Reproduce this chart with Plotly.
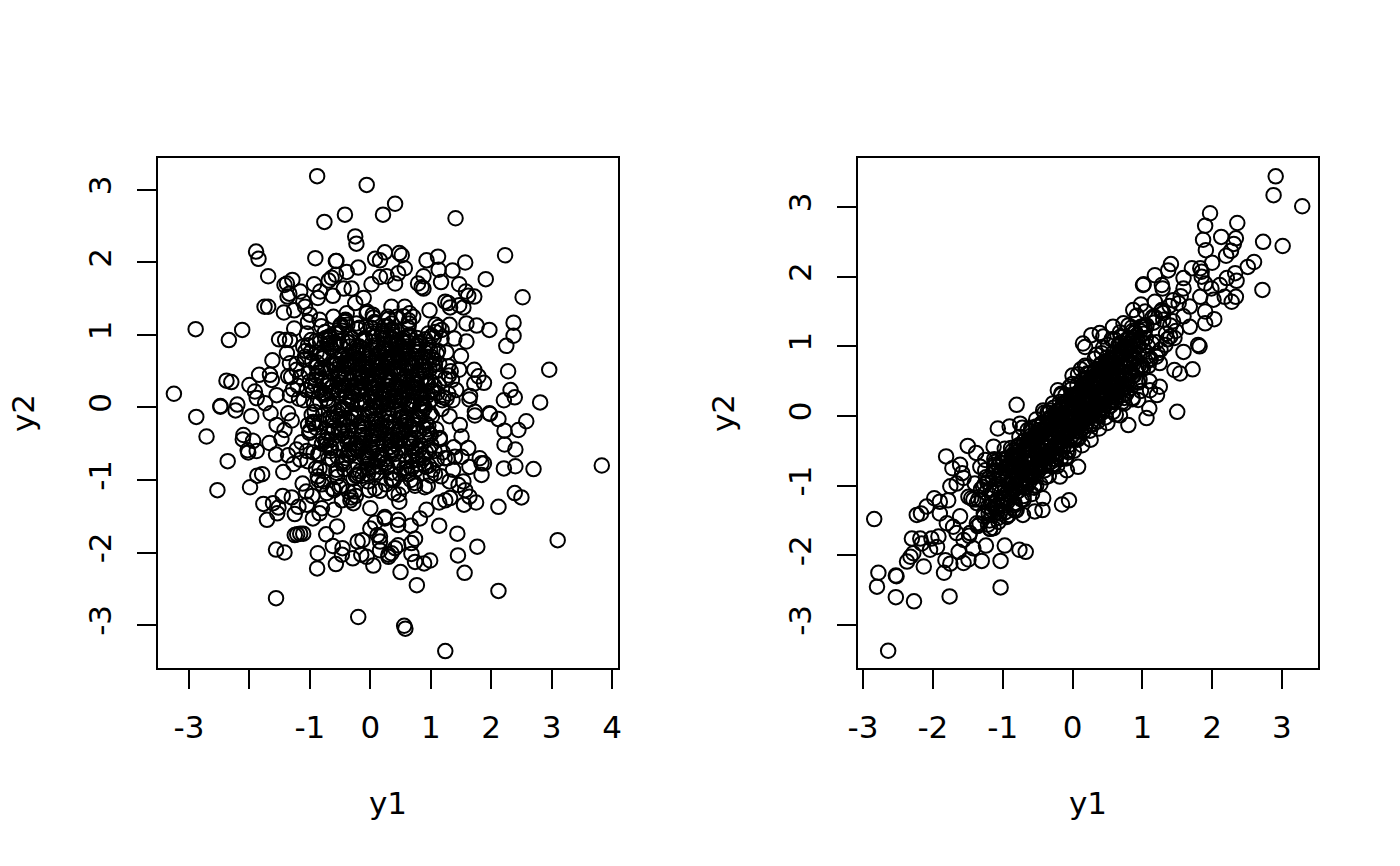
import plotly.graph_objects as go

# ---------- left panel: values ----------
left_outer_y1 = [-0.88,-0.06,-0.42,-0.76,0.21,-0.25,-0.23,-1.89,-1.85,-0.91,-0.57,-0.56,0.08,0.24,-1.69,-0.20,-0.39,-0.57,-0.64,-0.69,-1.29,-1.38,-1.42,-1.34,-1.37,-1.16,-1.11,-0.93,-0.83,-0.87,-0.62,-0.44,-0.31,0.02,0.16,-1.75,-1.69,-1.43,-1.26,-1.08,-1.0,-1.03,-0.84,-0.61,-0.39,-0.25,-0.11,-2.89,-2.12,-2.34,-1.26,-1.05,-1.51,-1.41,-1.33,-0.69,-0.67,-0.50,-1.03,-1.11,-1.38,-1.62,-1.33,-0.89,-0.61,-0.34,-0.48,-1.84,-1.66,-1.63,-1.36,-1.22,-2.38,-2.30,-3.25,-2.0,-1.91,-1.88,-1.74,-2.48,-2.2,-1.55,-1.33,-1.05,
 0.41,1.41,2.23,0.48,0.52,0.93,1.12,1.13,1.57,1.36,1.17,1.91,0.57,0.88,1.47,1.58,1.62,1.72,2.52,0.79,0.85,0.88,1.24,1.29,1.32,1.47,1.54,0.98,1.59,1.76,1.97,2.37,2.37,2.25,1.13,1.31,1.18,1.02,1.18,1.39,1.59,0.99,1.26,1.50,1.29,1.47,1.72,1.79,1.88,1.72,2.28,2.96,2.32,2.39,2.21,2.81,1.65,1.64,1.35,1.29,1.42,1.73,1.97,1.07,0.77,0.71,0.44,0.35,0.57,0.27,0.41,0.46,0.16,
 -2.48,-2.23,-2.88,-1.97,-2.10,-2.71,-2.11,-1.94,-1.67,-2.03,-2.02,-1.88,-1.56,-2.36,-1.47,-1.55,-1.65,-1.36,-1.44,-1.79,-1.87,-1.99,-2.53,-1.45,-1.30,-1.77,-1.61,-1.52,-1.54,-1.71,-1.25,-1.19,-1.05,-0.95,-0.84,-0.60,-1.06,-0.80,-0.55,-0.73,-1.25,-1.21,-1.16,-1.11,-1.56,-1.42,-0.87,-0.62,-0.46,-0.47,-0.57,-0.88,-0.29,-0.21,-0.13,-0.15,-0.06,0.05,0.0,0.08,0.12,0.16,0.30,-1.56,-0.20,-0.47,-0.28,0.0,0.24,
 1.73,1.98,2.12,2.58,2.22,2.45,2.22,2.40,2.21,2.40,2.70,3.83,1.81,1.84,1.88,1.84,1.64,2.39,2.50,2.12,1.75,1.64,1.55,1.54,1.57,1.46,1.31,1.32,1.24,1.14,1.07,1.37,1.40,1.51,1.62,1.48,1.51,1.14,1.44,1.77,1.45,3.10,1.56,2.12,0.99,0.89,0.74,0.68,0.74,0.68,0.50,0.77,0.56,0.58,1.24,0.46,0.41,0.35,0.30,0.16,0.16,0.67,0.46,0.46,0.82,0.93,0.24]
left_outer_y2 = [3.19,3.07,2.66,2.56,2.66,2.36,2.26,2.15,2.05,2.06,2.02,2.02,2.05,2.14,1.81,1.93,1.87,1.83,1.79,1.75,1.76,1.71,1.69,1.57,1.53,1.60,1.46,1.70,1.60,1.51,1.54,1.64,1.64,1.70,1.80,1.39,1.39,1.31,1.34,1.39,1.28,1.18,1.21,1.25,1.30,1.44,1.51,1.08,1.07,0.93,1.09,1.02,0.94,0.93,0.93,0.93,0.89,1.11,0.86,0.84,0.75,0.65,0.61,0.56,0.61,0.63,0.70,0.45,0.45,0.38,0.43,0.52,0.37,0.35,0.19,0.31,0.22,0.13,0.06,0.02,0.04,0.17,0.17,0.24,
 2.81,2.61,2.10,2.13,2.10,2.03,2.08,1.90,2.0,1.89,1.73,1.77,1.92,1.81,1.70,1.60,1.54,1.53,1.52,1.71,1.66,1.64,1.46,1.44,1.38,1.41,1.38,1.34,1.16,1.13,1.07,1.17,0.99,0.85,1.11,1.14,1.07,0.99,0.95,0.95,0.91,0.79,0.76,0.71,0.57,0.52,0.52,0.43,0.34,0.33,0.50,0.52,0.24,0.14,0.10,0.07,0.16,0.11,0.38,0.19,0.24,-0.06,-0.08,0.60,0.96,1.25,1.25,1.39,1.39,1.81,1.71,1.85,2.03,
 0.01,-0.04,-0.13,-0.12,-0.38,-0.40,-0.44,-0.46,-0.49,-0.59,-0.62,-0.60,-0.65,-0.74,-0.43,-0.24,-0.08,-0.66,-0.89,-0.92,-0.94,-1.10,-1.14,-1.22,-1.24,-1.33,-1.32,-1.38,-1.46,-1.55,-1.47,-1.37,-1.34,-1.53,-1.46,-1.41,-1.16,-1.39,-1.64,-1.75,-1.76,-1.75,-1.74,-1.74,-1.96,-2.0,-2.01,-1.91,-1.94,-2.03,-2.16,-2.22,-2.08,-1.85,-1.83,-2.03,-2.06,-2.18,-1.67,-1.59,-1.76,-1.97,-2.03,-2.63,-2.89,-1.28,-1.32,-1.39,-1.51,
 -0.11,-0.09,-0.16,-0.19,-0.32,-0.31,-0.51,-0.58,-0.84,-0.81,-0.85,-0.80,-0.70,-0.77,-0.77,-0.93,-0.82,-1.18,-1.24,-1.37,-1.31,-1.23,-1.34,-1.02,-1.14,-1.07,-1.02,-1.25,-1.28,-1.31,-0.91,-0.86,-0.68,-0.68,-0.56,-0.24,-0.40,-1.63,-1.74,-1.92,-2.04,-1.83,-2.28,-2.53,-2.11,-2.15,-2.13,-2.02,-1.81,-1.87,-2.27,-2.45,-3.01,-3.05,-3.36,-1.90,-1.94,-2.01,-2.06,-1.78,-1.85,-1.63,-1.55,-1.62,-1.53,-1.41,-1.53]
left_core_y1 = [-1.42,-1.31,-1.27,-1.18,-1.12,-1.09,-1.03,-0.98,-0.94,-0.91,-0.87,-0.83,-0.81,-0.78,-0.74,-0.72,-0.69,-0.66,-0.63,-0.61,-0.58,-0.55,-0.53,-0.51,-0.48,-0.46,-0.43,-0.41,-0.39,-0.37,-0.34,-0.32,-0.3,-0.27,-0.25,-0.23,-0.21,-0.19,-0.17,-0.14,-0.12,-0.1,-0.08,-0.06,-0.04,-0.02,0.01,0.03,0.05,0.07,
 0.09,0.11,0.13,0.16,0.18,0.2,0.22,0.24,0.27,0.29,0.31,0.33,0.35,0.38,0.4,0.42,0.44,0.47,0.49,0.51,0.54,0.56,0.58,0.61,0.63,0.66,0.69,0.71,0.74,0.77,0.79,0.83,0.86,0.89,0.92,0.96,1.01,1.06,1.11,1.17,1.24,1.31,1.38,-1.36,-1.22,-1.14,-1.05,-0.96,-0.89,-0.84,
 -0.79,-0.76,-0.7,-0.67,-0.64,-0.6,-0.57,-0.54,-0.5,-0.47,-0.44,-0.42,-0.38,-0.35,-0.33,-0.29,-0.26,-0.24,-0.2,-0.18,-0.15,-0.13,-0.11,-0.07,-0.05,-0.03,0.0,0.02,0.04,0.06,0.08,0.1,0.12,0.15,0.17,0.19,0.21,0.23,0.25,0.28,0.3,0.32,0.34,0.37,0.39,0.41,0.43,0.46,0.48,0.5,
 0.52,0.55,0.57,0.6,0.62,0.65,0.68,0.7,0.73,0.76,0.8,0.84,0.87,0.91,0.94,0.99,1.03,1.09,1.15,1.21,1.28,-1.28,-1.16,-1.07,-1.01,-0.93,-0.86,-0.8,-0.75,-0.71,-0.65,-0.62,-0.59,-0.56,-0.52,-0.49,-0.45,-0.4,-0.36,-0.31,-0.28,-0.22,-0.16,-0.09,-0.01,0.04,0.08,0.11,0.14,0.17,
 0.2,0.23,0.26,0.29,0.32,0.36,0.39,0.43,0.45,0.49,0.53,0.56,0.59,0.64,0.67,0.72,0.75,0.78,0.82,0.85,0.9,0.95,1.0,1.04,1.1,1.19,-1.0,-0.9,-0.82,-0.73,-0.68,-0.6,-0.54,-0.46,-0.38,-0.3,-0.24,-0.15,-0.07,0.02,0.06,0.1,0.15,0.19,0.24,0.28,
 0.33,0.37,0.41,0.46,0.5,0.55,0.6,0.65,0.7,0.75,0.81,0.88,0.97,1.08,-0.78,-0.62,-0.5,-0.35,-0.2,-0.1,0.0,0.07,0.13,0.18,0.25,0.3,0.35,0.4,0.47,0.52,0.58,0.63,0.69,0.78,0.86,0.98,-0.95,-0.77,-0.66,-0.44,-0.28,-0.12,0.03,0.12,0.22,0.31,0.42,0.51,0.61,0.72,0.92,1.13]
left_core_y2 = [-0.31,0.42,-0.78,0.12,-1.05,0.66,-0.24,0.93,-0.62,0.31,-0.95,0.08,1.12,-0.41,0.55,-1.18,-0.15,0.83,-0.72,0.22,1.02,-0.5,0.41,-1.1,-0.03,0.72,-0.85,1.21,0.15,-0.33,0.58,-1.24,0.95,-0.58,0.28,-0.12,1.08,-0.92,0.48,-0.26,0.81,-0.68,0.05,1.3,-1.02,0.35,-0.45,0.62,-0.82,0.18,
 1.16,-0.38,0.75,-1.15,0.02,0.52,-0.71,0.88,-0.2,1.25,-0.55,0.38,-0.98,0.68,0.1,-0.3,1.05,-1.2,0.45,-0.08,0.79,-0.65,0.25,-0.88,0.98,-0.42,0.6,-0.16,-1.08,0.32,0.85,-0.52,0.14,-0.78,0.5,-0.25,0.7,-0.6,0.2,-0.95,0.4,-0.12,-0.55,-0.08,0.6,-0.48,0.24,-1.22,0.44,-0.2,
 0.7,-0.88,0.1,0.96,-0.36,-1.14,0.52,-0.06,0.86,-0.76,0.3,1.18,-0.48,0.64,-1.28,0.2,-0.1,0.78,-0.6,1.1,0.4,-0.94,-0.22,0.56,1.32,-0.7,0.12,-0.4,0.9,0.26,-1.12,0.66,-0.18,0.46,-0.82,1.02,0.06,-0.5,0.74,-0.28,1.22,0.34,-0.9,0.16,0.54,-0.64,0.92,-0.04,-1.3,0.28,
 0.82,-0.34,0.42,-0.74,0.04,1.0,-0.54,0.22,-1.04,0.62,-0.14,0.36,-0.66,0.76,-0.3,0.1,-0.86,0.5,-0.44,0.14,-0.7,0.25,-0.72,0.78,-0.35,0.05,0.48,-1.06,0.18,0.88,-0.56,-0.14,0.6,-0.9,0.3,1.14,-0.24,0.46,-1.16,0.08,-0.62,0.84,0.26,-0.42,0.68,1.28,-0.8,0.0,0.56,-0.32,
 1.06,0.16,-0.76,0.44,-0.1,0.94,-1.0,0.32,0.72,-0.46,0.12,-0.84,0.58,1.2,-0.26,0.38,-0.64,0.8,-0.02,0.52,-1.1,0.2,-0.38,0.66,-0.72,0.1,0.36,-0.28,0.74,-0.52,0.04,0.9,-0.68,0.24,-0.16,0.56,-0.94,0.42,1.12,-0.4,0.08,0.7,-0.22,0.5,-0.78,0.3,0.98,-0.58,0.14,-0.34,
 0.62,-0.12,0.84,-0.48,0.28,-0.86,0.46,0.02,-0.6,1.04,0.34,-0.18,0.6,-0.44,0.18,-0.3,0.54,0.0,0.82,-0.66,0.38,-0.08,1.16,-0.5,0.66,0.12,-0.24,0.9,-0.74,0.44,0.06,-0.36,0.22,0.72,-0.14,0.4,-0.98,0.58,-0.62,0.26,0.96,-0.2,0.76,-0.42,0.5,0.08,-0.82,0.32,0.64,-0.06]
left_dense_y1 = [-0.96,-0.92,-0.88,-0.84,-0.79,-0.75,-0.7,-0.66,-0.62,-0.58,-0.54,-0.49,-0.45,-0.41,-0.37,-0.33,-0.28,-0.24,-0.2,-0.16,-0.12,-0.08,-0.03,0.01,0.05,0.09,0.13,0.17,0.21,0.26,0.3,0.34,0.38,0.42,0.46,0.51,0.55,0.59,0.63,0.67,0.71,0.76,0.8,0.84,0.88,0.93,0.97,1.02,1.08,1.15,
 -1.02,-0.97,-0.93,-0.89,-0.85,-0.81,-0.77,-0.73,-0.68,-0.64,-0.6,-0.56,-0.52,-0.47,-0.43,-0.39,-0.35,-0.31,-0.26,-0.22,-0.18,-0.14,-0.1,-0.05,-0.01,0.03,0.07,0.11,0.15,0.19,0.24,0.28,0.32,0.36,0.4,0.44,0.49,0.53,0.57,0.61,0.65,0.69,0.74,0.78,0.82,0.86,0.91,0.95,1.0,1.05,
 -0.8,-0.76,-0.71,-0.67,-0.63,-0.59,-0.55,-0.5,-0.46,-0.42,-0.38,-0.34,-0.29,-0.25,-0.21,-0.17,-0.13,-0.09,-0.04,0.0,0.04,0.08,0.12,0.16,0.2,0.25,0.29,0.33,0.37,0.41,0.45,0.5,0.54,0.58,0.62,0.66,0.7,0.75,0.79,0.83,0.87,0.92,0.96,1.01,1.06,1.12,1.18,1.23,1.3,1.36,
 -0.6,-0.56,-0.52,-0.48,-0.44,-0.4,-0.36,-0.32,-0.28,-0.24,-0.2,-0.16,-0.12,-0.08,-0.04,0.0,0.04,0.08,0.12,0.16,0.2,0.24,0.28,0.32,0.36,0.4,0.44,0.48,0.52,0.56,0.6,0.64,0.68,0.72,0.76,0.8,0.84,0.88,0.92,0.96,
 0.0,0.03,0.06,0.1,0.14,0.18,0.22,0.26,0.3,0.34,0.38,0.42,0.46,0.5,0.54,0.58,0.62,0.66,0.7,0.74,0.78,0.82,0.86,0.9,0.94,0.98,-0.04,-0.08,-0.12,-0.16,-0.2,-0.24,-0.28,-0.32,-0.36,-0.4,-0.44,-0.48,-0.52,-0.56]
left_dense_y2 = [0.62,-0.84,0.18,1.04,-0.36,0.5,-1.12,0.86,-0.12,0.34,-0.74,1.2,0.02,-0.5,0.7,-1.22,0.26,-0.2,0.92,-0.62,0.44,1.1,-0.9,0.1,0.6,-0.32,0.82,-1.06,0.3,-0.46,1.0,0.16,-0.76,0.54,1.26,-0.16,0.72,-1.0,0.38,-0.56,0.9,0.06,-0.28,0.64,-0.8,0.22,1.14,-0.42,0.48,-0.1,
 -0.22,0.76,-0.66,0.4,-1.02,0.12,0.98,-0.44,0.58,-0.86,0.24,1.06,-0.14,0.66,-0.58,0.08,-1.16,0.52,0.84,-0.34,0.28,-0.72,0.68,-0.04,1.18,-0.54,0.42,-0.24,0.78,-0.82,0.2,1.08,-0.38,0.56,-0.92,0.14,0.74,-0.18,1.3,-0.68,0.32,-0.3,0.88,-0.06,0.5,-1.08,0.36,0.96,-0.5,0.2,
 0.3,-0.52,0.8,-0.08,-0.96,0.46,0.0,-0.4,1.14,-0.66,0.22,0.62,-0.26,-0.88,0.36,0.96,-0.1,0.54,-0.48,0.2,-0.74,0.76,0.12,-0.36,1.12,0.48,-0.6,0.26,0.86,-0.14,-1.1,0.4,0.98,-0.44,0.16,0.66,-0.78,0.04,0.58,-0.22,1.02,-0.52,0.3,0.78,-0.02,-0.7,0.44,0.1,-0.32,0.6,
 -0.3,0.5,-0.78,0.14,0.9,-0.2,0.42,-0.56,0.74,0.04,-0.38,0.6,-0.92,0.32,1.02,-0.16,0.5,-0.7,0.18,0.82,-0.28,0.38,-1.0,0.66,0.02,-0.46,0.94,0.24,-0.12,0.58,-0.84,0.34,0.76,-0.34,0.12,0.52,-0.62,0.86,0.0,-0.2,
 0.34,0.86,-0.42,0.58,-0.06,1.0,0.24,-0.64,0.72,0.08,0.46,-0.3,0.9,0.2,0.62,-0.5,0.04,0.84,0.28,-0.14,0.7,-0.38,0.16,0.52,-0.78,0.94,-0.22,0.48,0.1,-0.5,0.74,-0.08,0.3,-0.7,0.58,-0.32,0.2,0.88,-0.58,0.42]
left_fill_y1 = [-1.22,-1.16,-1.1,-1.05,-0.99,-0.95,-0.9,-0.86,-0.82,-0.78,-0.74,-0.69,-0.65,-0.61,-0.57,-0.53,-0.48,-0.44,-0.4,-0.36,-0.32,-0.27,-0.23,-0.19,-0.15,-0.11,-0.07,-0.02,0.02,0.06,0.1,0.14,0.18,0.23,0.27,0.31,0.35,0.39,0.43,0.47,0.52,0.56,0.6,0.64,0.68,0.73,0.77,0.81,0.85,0.9,
 0.95,1.0,1.04,1.09,1.14,1.2,1.26,1.33,-1.3,-1.2,-1.08,-1.0,-0.9,-0.83,-0.72,-0.64,-0.55,-0.47,-0.38,-0.29,-0.2,-0.11,-0.03,0.05,0.12,0.19,0.27,0.34,0.41,0.49,0.56,0.63,0.71,0.79,0.87,0.94,1.02,1.1,0.3,0.36,0.24,0.44,0.18,0.52,0.1,0.6,0.02,0.68,-0.06,0.76,
 -0.5,-0.46,-0.42,-0.38,-0.34,-0.3,-0.26,-0.22,-0.18,-0.14,-0.1,-0.06,-0.02,0.02,0.05,0.08,0.11,0.15,0.19,0.23,0.27,0.31,0.35,0.39,0.43,0.47,0.51,0.55,0.59,0.63,0.67,0.71,0.75,0.79,0.83,0.87,0.91,0.95,0.99,1.03,-0.66,-0.7,-0.74,-0.78,-0.82,-0.86,-0.9,-0.94,-0.98,-1.04]
left_fill_y2 = [0.1,-0.6,0.76,-0.2,0.38,-1.0,0.54,-0.1,0.96,-0.7,0.2,-0.28,1.02,0.44,-1.08,-0.02,0.6,-0.42,0.14,-0.86,1.16,0.34,-0.5,0.72,0.06,-1.14,0.4,0.98,-0.28,0.56,-0.66,0.22,0.8,-0.1,1.06,-1.18,0.5,-0.34,0.68,0.1,-0.84,1.16,0.28,-0.24,0.86,-0.58,0.4,0.0,0.7,-0.94,
 0.24,-0.3,0.6,-0.62,0.12,0.5,-0.18,0.3,0.7,-0.32,-0.84,0.9,-0.44,0.28,0.66,-0.36,0.9,0.22,-0.54,0.46,-0.84,1.24,0.3,-0.28,0.66,-0.54,0.14,0.82,-0.2,1.1,0.02,-0.72,0.62,0.32,-0.12,0.74,0.06,-0.46,0.56,-0.44,0.12,0.78,-0.32,0.36,-0.56,0.04,0.6,0.2,-0.16,0.92,
 0.3,-0.64,0.84,-0.14,0.4,-0.94,0.66,-0.5,0.1,0.8,-0.68,0.28,-0.36,0.62,-0.9,0.44,-0.16,1.12,0.04,0.68,-0.4,0.24,0.88,-0.56,0.14,0.96,-0.2,-0.92,0.5,0.08,-0.42,0.76,0.2,-0.7,0.94,0.36,-0.08,0.58,-0.6,0.34,-0.46,0.68,0.24,-0.64,0.92,-0.2,0.3,-0.74,0.14,0.56]

# ---------- right panel: values ----------
right_outer_y1 = [-2.64,-2.84,-2.78,-2.80,-2.53,-2.52,-2.53,-2.27,-1.76,-1.03,-2.37,-2.32,-2.28,-2.30,-2.23,-2.17,-2.09,-1.98,-1.90,-1.81,-1.72,-1.61,-1.58,-1.50,-1.38,-1.75,-1.66,-1.56,-1.78,-1.49,-1.90,-2.18,-2.16,-2.02,-1.92,-1.94,-2.04,-2.13,-1.84,-1.82,-1.75,-1.56,-1.49,-1.30,-1.24,-1.03,-0.97,-0.76,-0.67,-1.42,-1.63,-1.13,-1.21,-0.94,-0.71,-0.54,-0.43,-0.42,-0.15,-0.05,-0.18,-0.08,0.08,-1.07,-1.13,-1.25,-1.32,-0.80,-0.90,-0.75,-1.40,-1.37,-1.61,-1.71,-1.80,-1.47,-1.56,-1.66,-1.37,-1.04,-0.80,
 2.91,2.88,3.29,3.01,2.73,1.97,1.90,2.36,1.87,2.13,2.34,2.31,2.27,2.20,1.91,2.00,2.60,2.51,2.72,1.41,1.37,1.18,1.01,1.02,1.28,1.29,1.59,1.71,1.83,1.85,1.85,1.90,1.59,2.33,2.35,2.21,2.11,1.99,2.02,1.83,2.34,2.18,2.28,0.87,0.98,1.18,0.73,0.44,0.27,0.15,0.18,1.90,2.03,1.90,1.80,1.82,1.72,1.50,1.06,1.10,1.25,1.21,1.11,1.54,1.46,1.59,1.68,1.59,1.44,1.68,1.30,0.80,0.68,0.94,1.40,1.25,0.58,0.39]
right_outer_y2 = [-3.37,-1.48,-2.25,-2.45,-2.29,-2.30,-2.60,-2.66,-2.59,-2.46,-2.09,-2.02,-1.97,-1.76,-1.42,-1.40,-1.30,-1.18,-1.23,-0.58,-0.75,-0.70,-0.82,-0.43,-0.53,-1.01,-0.97,-0.89,-1.21,-1.16,-1.40,-1.76,-1.83,-1.76,-1.73,-1.88,-1.92,-2.16,-2.25,-2.07,-2.12,-2.11,-2.06,-2.08,-1.86,-2.08,-1.86,-1.92,-1.95,-1.90,-1.95,-1.61,-1.56,-1.45,-1.42,-1.37,-1.35,-1.18,-1.27,-1.21,-0.87,-0.78,-0.73,-0.18,-0.44,-0.63,-0.73,0.16,-0.15,-0.11,-0.97,-1.25,-1.44,-1.59,-1.54,-1.68,-1.78,-1.68,-1.54,-1.40,-1.35,
 3.44,3.17,3.01,2.44,2.50,2.91,2.73,2.77,2.53,2.57,2.55,2.47,2.37,2.30,2.38,2.20,2.21,2.14,1.81,2.18,2.09,2.02,1.88,1.89,1.88,1.83,1.98,2.12,2.12,2.07,2.0,1.90,1.83,2.05,1.94,1.98,1.88,1.83,1.67,1.71,1.71,1.71,1.64,1.52,1.60,1.64,1.33,1.14,1.16,1.04,0.99,1.50,1.39,1.33,1.02,1.0,0.67,0.06,-0.03,0.11,0.42,0.30,0.37,0.61,0.66,0.92,1.28,1.43,1.66,1.57,1.38,-0.13,0.01,0.23,1.14,0.76,1.28,1.19]
right_core_y1 = [-1.48,-1.42,-1.36,-1.31,-1.27,-1.22,-1.18,-1.15,-1.11,-1.08,-1.05,-1.02,-0.99,-0.96,-0.94,-0.91,-0.88,-0.86,-0.83,-0.81,-0.78,-0.76,-0.73,-0.71,-0.69,-0.66,-0.64,-0.62,-0.59,-0.57,-0.55,-0.52,-0.5,-0.48,-0.46,-0.43,-0.41,-0.39,-0.37,-0.35,-0.32,-0.3,-0.28,-0.26,-0.24,-0.21,-0.19,-0.17,-0.15,-0.13,
 -0.1,-0.08,-0.06,-0.04,-0.02,0.0,0.03,0.05,0.07,0.09,0.11,0.14,0.16,0.18,0.2,0.22,0.25,0.27,0.29,0.31,0.33,0.36,0.38,0.4,0.42,0.45,0.47,0.49,0.51,0.54,0.56,0.58,0.61,0.63,0.66,0.68,0.71,0.74,0.77,0.8,0.83,0.86,0.89,0.93,0.97,1.01,1.06,1.12,1.18,1.26,
 -1.45,-1.33,-1.24,-1.16,-1.09,-1.03,-0.97,-0.92,-0.87,-0.82,-0.77,-0.74,-0.7,-0.67,-0.63,-0.6,-0.56,-0.53,-0.49,-0.47,-0.44,-0.4,-0.38,-0.34,-0.31,-0.29,-0.25,-0.22,-0.2,-0.16,-0.14,-0.11,-0.09,-0.05,-0.03,0.01,0.04,0.06,0.08,0.12,0.15,0.17,0.19,0.23,0.26,0.28,0.32,0.35,0.37,0.41,
 0.44,0.48,0.5,0.53,0.57,0.6,0.64,0.67,0.72,0.75,0.79,0.84,0.88,0.92,0.98,1.04,1.1,1.16,1.22,1.3,1.36,1.44,-1.12,-1.0,-0.9,-0.8,-0.72,-0.65,-0.58,-0.51,-0.45,-0.36,-0.27,-0.18,-0.12,-0.07,-0.01,0.02,0.1,0.13,0.21,0.24,0.3,0.34,0.39,0.43,0.46,0.52,0.55,0.59,0.62,0.65,
 0.7,0.73,0.78,0.82,0.85,0.9,0.95,1.0,1.08,1.14,1.2,1.28,1.34,1.4,1.48,1.55,-0.95,-0.85,-0.75,-0.68,-0.61,-0.54,-0.42,-0.33,-0.23,-0.11,0.0,0.08,0.16,0.26,0.35,0.44,0.55,0.65,0.75,0.88,1.02]
right_core_y2 = [-1.72,-1.2,-1.58,-1.05,-1.44,-0.95,-1.62,-1.1,-0.72,-1.38,-0.85,-1.3,-0.68,-1.18,-0.6,-1.42,-0.92,-0.5,-1.28,-0.66,-1.08,-0.42,-1.2,-0.78,-0.36,-1.02,-0.55,-0.95,-0.28,-0.82,-0.42,-1.0,-0.65,-0.2,-0.74,-0.12,-0.58,-0.88,-0.3,-0.68,-0.02,-0.48,-0.72,-0.18,-0.55,0.08,-0.38,-0.62,-0.05,-0.44,
 0.2,-0.28,-0.52,0.04,-0.3,0.3,-0.14,0.14,-0.34,0.32,-0.06,0.42,-0.22,0.22,-0.02,0.55,0.06,0.36,-0.12,0.62,0.16,-0.08,0.48,0.1,0.75,0.26,-0.02,0.6,0.18,0.82,0.34,0.06,0.7,0.26,1.02,0.42,0.2,0.88,0.46,1.1,0.6,0.24,0.85,0.5,1.22,0.68,1.3,0.82,1.42,0.95,
 -1.18,-1.55,-0.88,-1.4,-0.78,-1.22,-0.75,-1.08,-0.58,-1.0,-0.5,-0.96,-0.42,-0.82,-0.34,-0.88,-0.32,-0.74,-0.24,-0.62,-0.12,-0.7,-0.2,-0.58,-0.04,-0.48,0.02,-0.38,-0.12,0.12,-0.36,0.0,-0.26,0.18,-0.18,0.26,-0.22,0.1,-0.1,0.38,-0.06,0.28,0.44,0.0,0.5,0.12,0.58,0.2,0.0,0.66,
 0.12,0.78,0.3,0.62,0.22,0.84,0.34,0.92,0.4,1.0,0.5,1.08,0.58,1.16,0.7,1.24,0.8,1.34,0.9,1.48,1.1,1.36,-0.62,-1.2,-0.7,-0.52,-0.9,-0.4,-0.82,-0.3,-0.68,-0.1,-0.55,-0.02,-0.42,0.06,-0.28,0.16,-0.15,0.24,-0.04,0.36,0.04,0.46,0.14,0.56,0.22,0.66,0.32,0.76,0.4,0.86,
 0.44,0.98,0.54,1.12,0.62,1.2,0.72,1.28,0.86,1.04,1.06,1.52,1.18,1.3,1.22,1.72,-1.12,-0.72,-0.96,-0.64,-0.48,-0.62,-0.22,-0.5,0.02,-0.24,0.1,-0.16,0.28,0.06,0.52,0.3,0.72,0.52,0.96,0.76,1.18]
right_dense_y1 = [-1.2,-1.15,-1.11,-1.06,-1.01,-0.97,-0.93,-0.89,-0.84,-0.8,-0.76,-0.72,-0.68,-0.63,-0.59,-0.55,-0.51,-0.47,-0.42,-0.38,-0.34,-0.3,-0.26,-0.21,-0.17,-0.13,-0.09,-0.05,0.0,0.04,0.08,0.12,0.17,0.21,0.25,0.29,0.33,0.38,0.42,0.46,0.5,0.55,0.6,0.64,0.69,0.74,0.79,0.85,0.91,0.98,
 -1.28,-1.19,-1.13,-1.07,-1.03,-0.98,-0.94,-0.9,-0.85,-0.81,-0.77,-0.73,-0.69,-0.65,-0.6,-0.56,-0.52,-0.48,-0.44,-0.4,-0.36,-0.31,-0.27,-0.23,-0.18,-0.14,-0.1,-0.06,-0.02,0.03,0.07,0.11,0.15,0.19,0.23,0.27,0.32,0.36,0.4,0.44,0.49,0.53,0.58,0.62,0.67,0.72,0.78,0.83,0.89,0.96,
 -1.1,-1.04,-1.0,-0.95,-0.9,-0.86,-0.82,-0.79,-0.75,-0.71,-0.67,-0.64,-0.61,-0.57,-0.54,-0.5,-0.46,-0.43,-0.39,-0.36,-0.33,-0.29,-0.25,-0.22,-0.19,-0.15,-0.12,-0.08,-0.04,-0.01,0.02,0.06,0.1,0.13,0.16,0.2,0.24,0.28,0.31,0.35,0.39,0.43,0.47,0.52,0.56,0.61,0.65,0.7,0.76,0.82,
 -0.92,-0.88,-0.84,-0.8,-0.76,-0.72,-0.69,-0.65,-0.62,-0.58,-0.54,-0.51,-0.47,-0.44,-0.41,-0.37,-0.34,-0.31,-0.27,-0.24,-0.2,-0.17,-0.14,-0.1,-0.07,-0.03,0.0,0.03,0.06,0.09,0.12,0.16,0.19,0.22,0.26,0.29,0.33,0.37,0.41,0.45,0.49,0.54,0.59,0.63,0.68,0.73,0.8,0.86,0.93,1.0,
 -1.35,-1.26,-1.2,-1.14,-1.08,-1.02,-0.96,-0.9,-0.83,-0.78,-0.7,-0.63,-0.55,-0.49,-0.4,-0.32,-0.24,-0.16,-0.08,0.0,0.1,0.18,0.26,0.34,0.43,0.51,0.6,0.69,0.77,0.86,0.94,1.03,1.09,1.15,1.2,1.27,1.33,1.39,1.46,1.52,
 -0.62,-0.58,-0.55,-0.5,-0.46,-0.42,-0.38,-0.35,-0.3,-0.26,-0.23,-0.19,-0.15,-0.11,-0.07,-0.03,0.01,0.05,0.08,0.12,0.15,0.18,0.22,0.26,0.3,0.34,0.38,0.42,0.46,0.5,0.54,0.58,0.62,0.66,0.7,0.74,0.78,0.82,0.87,0.92]
right_dense_y2 = [-0.9,-1.35,-0.66,-1.46,-0.91,-0.47,-1.23,-0.69,-1.34,-0.45,-0.86,-0.17,-1.03,-0.48,-0.17,-1.03,-0.26,-0.69,0.08,-0.43,0.04,-0.72,-0.14,0.37,-0.45,0.17,-0.61,0.03,0.46,-0.32,0.3,0.67,-0.01,0.61,-0.21,0.34,0.66,0.08,0.9,0.34,0.78,0.15,1.1,0.44,1.05,0.26,0.97,1.27,0.66,1.28,
 -1.02,-1.5,-0.8,-1.28,-0.68,-1.2,-0.62,-1.14,-0.55,-1.1,-0.42,-1.0,-0.35,-0.92,-0.22,-0.88,-0.15,-0.78,-0.1,-0.72,0.05,-0.66,0.12,-0.58,0.2,-0.48,0.3,-0.42,0.38,-0.3,0.44,-0.22,0.52,-0.14,0.6,-0.08,0.66,0.02,0.74,0.08,0.84,0.14,0.9,0.22,1.0,0.3,1.1,0.4,1.2,0.52,
 -1.3,-0.85,-1.18,-0.76,-1.12,-0.68,-1.05,-0.58,-0.98,-0.5,-0.9,-0.44,-0.82,-0.36,-0.74,-0.28,-0.68,-0.2,-0.6,-0.14,-0.54,-0.06,-0.46,0.02,-0.4,0.1,-0.32,0.18,-0.24,0.24,-0.18,0.32,-0.1,0.38,-0.04,0.46,0.04,0.52,0.1,0.6,0.16,0.68,0.24,0.76,0.32,0.84,0.42,0.94,0.52,1.04,
 -0.7,-1.05,-0.62,-1.0,-0.55,-0.92,-0.48,-0.85,-0.44,-0.78,-0.34,-0.7,-0.28,-0.62,-0.22,-0.56,-0.16,-0.5,-0.1,-0.42,-0.02,-0.36,0.04,-0.3,0.12,-0.22,0.16,-0.16,0.24,-0.1,0.3,-0.04,0.36,0.02,0.42,0.08,0.5,0.14,0.58,0.22,0.66,0.28,0.74,0.36,0.86,0.46,0.96,0.58,1.08,0.72,
 -1.2,-0.98,-1.4,-0.9,-1.32,-0.82,-1.38,-0.78,-1.25,-0.62,-1.15,-0.4,-1.0,-0.15,-0.78,0.08,-0.62,0.32,-0.5,0.58,-0.3,0.72,-0.12,0.88,0.05,1.02,0.2,1.14,0.32,1.22,0.48,1.3,0.72,1.42,0.85,1.5,1.02,1.58,1.12,1.62,
 -0.4,-0.82,-0.35,-0.72,-0.28,-0.62,-0.2,-0.58,-0.12,-0.46,-0.02,-0.38,0.08,-0.3,0.14,-0.22,0.24,-0.14,0.3,-0.08,0.36,-0.02,0.44,0.06,0.5,0.12,0.6,0.22,0.68,0.28,0.76,0.36,0.84,0.44,0.92,0.52,1.0,0.62,1.08,0.7]
right_fill_y1 = [-1.3,-1.27,-1.24,-1.21,-1.17,-1.14,-1.11,-1.08,-1.05,-1.02,-0.99,-0.96,-0.93,-0.9,-0.87,-0.84,-0.81,-0.78,-0.75,-0.72,-0.69,-0.66,-0.63,-0.6,-0.57,-0.54,-0.51,-0.48,-0.45,-0.42,-0.39,-0.36,-0.33,-0.3,-0.27,-0.24,-0.21,-0.18,-0.15,-0.12,-0.09,-0.06,-0.03,0.0,0.03,0.06,0.09,0.12,0.15,0.18,0.21,0.24,0.27,0.3,0.33,0.36,0.39,0.42,0.45,0.48,0.51,0.54,0.57,0.6,0.63,0.66,0.69,0.72,0.75,0.78,0.81,0.84,0.87,0.9,0.93,0.96,0.99,1.02,1.05,1.08,
 -1.25,-1.18,-1.12,-1.06,-1.0,-0.94,-0.88,-0.82,-0.76,-0.7,-0.64,-0.58,-0.52,-0.46,-0.4,-0.34,-0.28,-0.22,-0.16,-0.1,-0.04,0.02,0.08,0.14,0.2,0.26,0.32,0.38,0.44,0.5,0.56,0.62,0.68,0.74,0.8,0.86,0.92,0.98,1.04,1.1,
 -0.44,-0.4,-0.37,-0.33,-0.29,-0.25,-0.22,-0.18,-0.14,-0.11,-0.07,-0.04,0.0,0.04,0.07,0.11,0.14,0.18,0.22,0.25,0.29,0.33,0.37,0.4,0.44,0.48,0.51,0.55,0.59,0.63]
right_fill_y2 = [-1.2,-1.4,-1.1,-1.3,-1.05,-1.26,-1.0,-1.2,-0.98,-1.1,-0.88,-1.06,-0.85,-0.98,-0.78,-0.94,-0.72,-0.86,-0.68,-0.82,-0.6,-0.76,-0.56,-0.68,-0.5,-0.62,-0.44,-0.56,-0.38,-0.5,-0.32,-0.44,-0.26,-0.38,-0.2,-0.32,-0.14,-0.26,-0.08,-0.2,-0.02,-0.14,0.04,-0.08,0.1,-0.02,0.16,0.04,0.22,0.1,0.28,0.16,0.34,0.22,0.4,0.28,0.46,0.34,0.52,0.4,0.58,0.46,0.64,0.52,0.7,0.58,0.76,0.64,0.82,0.7,0.88,0.76,0.94,0.82,1.0,0.88,1.06,0.94,1.12,1.0,
 -0.78,-1.62,-0.7,-1.52,-0.62,-1.44,-0.46,-1.36,-0.3,-1.2,-0.2,-1.12,-0.05,-0.98,0.05,-0.86,0.18,-0.72,0.3,-0.6,0.42,-0.5,0.6,-0.42,0.7,-0.34,0.82,-0.18,0.98,-0.1,1.1,0.02,1.2,0.18,1.3,0.26,1.44,0.36,1.5,0.5,
 -0.28,-0.55,-0.2,-0.5,-0.12,-0.42,-0.06,-0.34,0.02,-0.28,0.1,-0.22,0.14,-0.12,0.2,-0.04,0.28,0.02,0.36,0.08,0.42,0.14,0.5,0.22,0.56,0.3,0.64,0.36,0.72,0.42]

# ---------- axis ticks and labels ----------
left_x_ticks = [-3, -2, -1, 0, 1, 2, 3, 4]
left_x_labels = ["-3", "", "-1", "0", "1", "2", "3", "4"]
left_y_ticks = [-3, -2, -1, 0, 1, 2, 3]
right_x_ticks = [-3, -2, -1, 0, 1, 2, 3]
right_y_ticks = [-3, -2, -1, 0, 1, 2, 3]
axis_x_name = "y1"
axis_y_name = "y2"

W, H = 1400, 866
FONT = dict(family="DejaVu Sans", size=31, color="black")
marker = dict(symbol="circle-open", size=14.5, color="black", line=dict(width=2, color="black"))

fig = go.Figure()
fig.add_trace(go.Scatter(x=left_outer_y1 + left_core_y1 + left_dense_y1 + left_fill_y1,
                         y=left_outer_y2 + left_core_y2 + left_dense_y2 + left_fill_y2,
                         mode="markers", marker=marker, xaxis="x", yaxis="y", showlegend=False))
fig.add_trace(go.Scatter(x=right_outer_y1 + right_core_y1 + right_dense_y1 + right_fill_y1,
                         y=right_outer_y2 + right_core_y2 + right_dense_y2 + right_fill_y2,
                         mode="markers", marker=marker, xaxis="x2", yaxis="y2", showlegend=False))

ax = dict(showgrid=False, zeroline=False, showline=True, mirror=True, linecolor="black", linewidth=1.6,
          ticks="outside", ticklen=19, tickwidth=1.6, tickcolor="black", tickfont=FONT)

def dom_x(a, b):
    return [a / W, b / W]

def dom_y(a, b):
    return [1 - b / H, 1 - a / H]

fig.update_layout(
    width=W, height=H, autosize=False, margin=dict(l=0, r=0, t=0, b=0, autoexpand=False),
    paper_bgcolor="white", plot_bgcolor="white", font=FONT,
    xaxis=dict(ax, domain=dom_x(158, 618), range=[-3.513, 4.098], tickmode="array", ticklabelstandoff=12,
               tickvals=left_x_ticks, ticktext=left_x_labels, anchor="y",
               title=dict(text=axis_x_name, font=FONT, standoff=48)),
    yaxis=dict(ax, domain=dom_y(158, 668), range=[-3.593, 3.441], tickmode="array", ticklabelstandoff=14,
               tickvals=left_y_ticks, ticktext=[str(v) for v in left_y_ticks], tickangle=-90, anchor="x",
               title=dict(text=axis_y_name, font=FONT, standoff=38)),
    xaxis2=dict(ax, domain=dom_x(858, 1318), range=[-3.072, 3.516], tickmode="array", ticklabelstandoff=12,
                tickvals=right_x_ticks, ticktext=[str(v) for v in right_x_ticks], anchor="y2",
                title=dict(text=axis_x_name, font=FONT, standoff=48)),
    yaxis2=dict(ax, domain=dom_y(158, 668), range=[-3.617, 3.703], tickmode="array", ticklabelstandoff=14,
                tickvals=right_y_ticks, ticktext=[str(v) for v in right_y_ticks], tickangle=-90, anchor="x2",
                title=dict(text=axis_y_name, font=FONT, standoff=38)),
)

fig.write_html("out.html", config={"displayModeBar": False}, post_script="document.body.style.margin='0';")
